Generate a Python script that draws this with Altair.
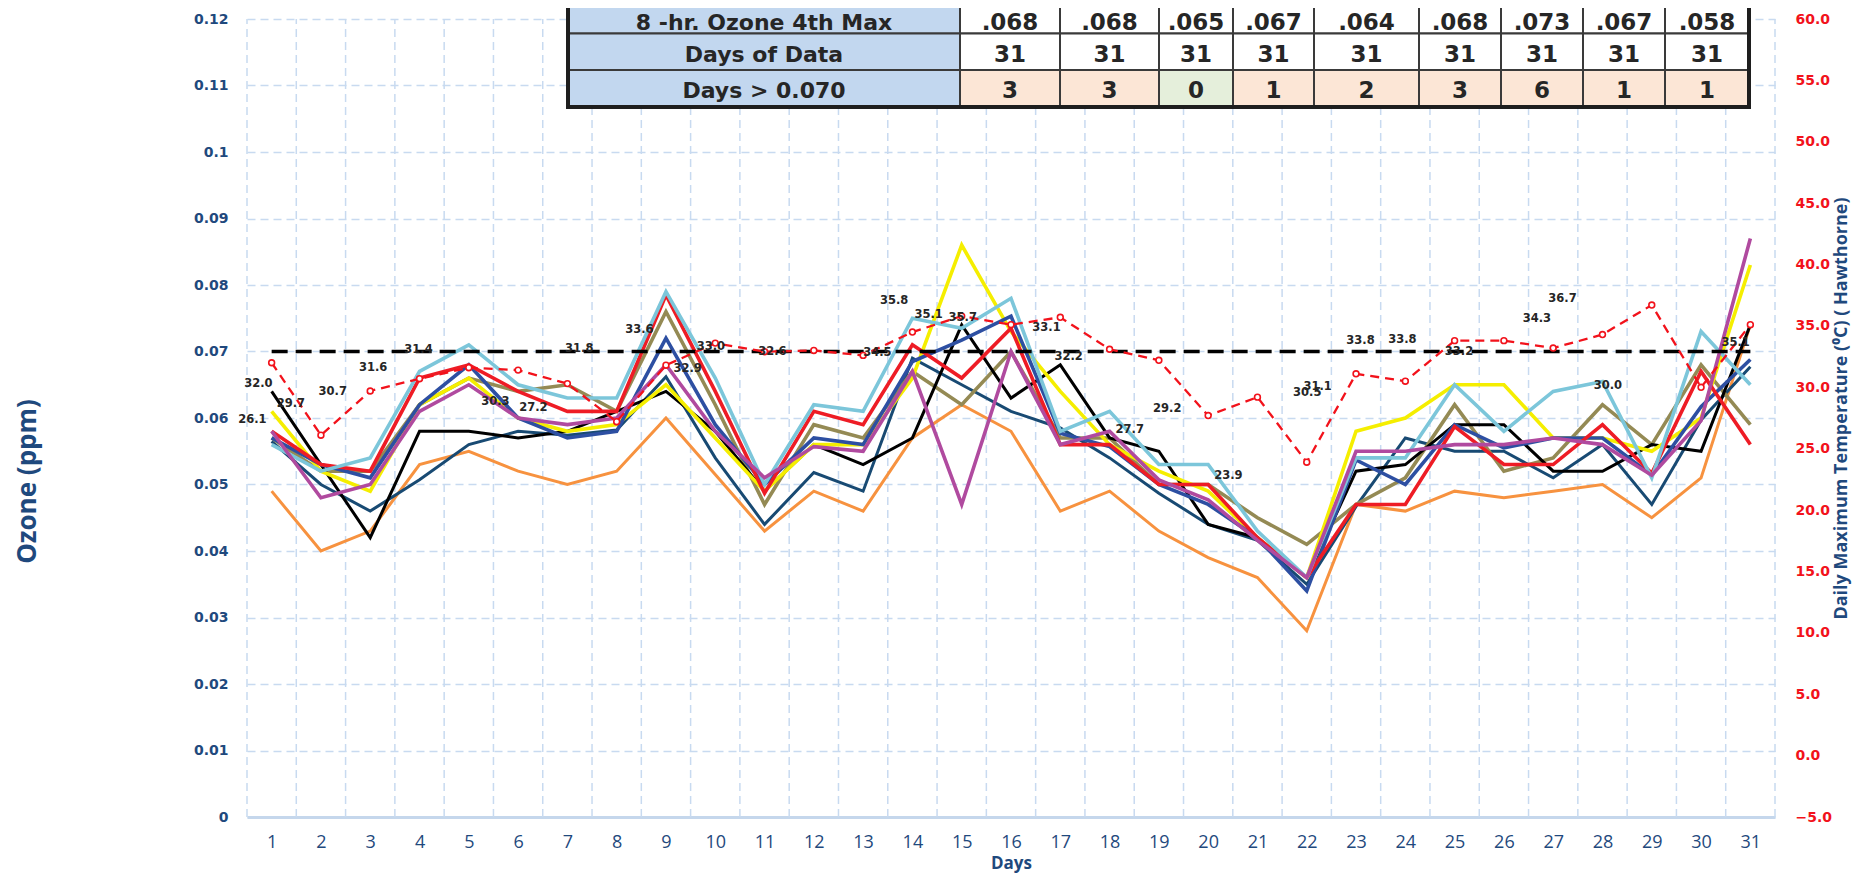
import altair as alt
import pandas as pd

# ---------------- data ----------------
days = list(range(1, 32))

oz_black = [0.064, 0.053, 0.042, 0.058, 0.058, 0.057, 0.058, 0.061, 0.064, 0.058,
            0.049, 0.056, 0.053, 0.057, 0.074, 0.063, 0.068, 0.057, 0.055, 0.044,
            0.042, 0.036, 0.052, 0.053, 0.059, 0.059, 0.052, 0.052, 0.056, 0.055, 0.074]
oz_yellow = [0.061, 0.052, 0.049, 0.062, 0.066, 0.060, 0.058, 0.059, 0.065, 0.057,
             0.049, 0.056, 0.056, 0.066, 0.086, 0.073, 0.064, 0.056, 0.052, 0.049,
             0.042, 0.036, 0.058, 0.060, 0.065, 0.065, 0.057, 0.057, 0.055, 0.060, 0.083]
oz_olive = [0.057, 0.052, 0.052, 0.062, 0.066, 0.064, 0.065, 0.061, 0.076, 0.062,
            0.047, 0.059, 0.057, 0.067, 0.062, 0.070, 0.057, 0.057, 0.050, 0.050,
            0.045, 0.041, 0.047, 0.051, 0.062, 0.052, 0.054, 0.062, 0.056, 0.068, 0.059]
oz_cyan = [0.056, 0.052, 0.054, 0.067, 0.071, 0.065, 0.063, 0.063, 0.079, 0.066,
           0.050, 0.062, 0.061, 0.075, 0.0735, 0.078, 0.058, 0.061, 0.053, 0.053,
           0.043, 0.036, 0.054, 0.054, 0.065, 0.058, 0.064, 0.0655, 0.051, 0.073, 0.065]
oz_red = [0.058, 0.053, 0.052, 0.066, 0.068, 0.064, 0.061, 0.061, 0.0785, 0.064,
          0.0487, 0.061, 0.059, 0.071, 0.066, 0.0735, 0.056, 0.056, 0.050, 0.050,
          0.042, 0.036, 0.047, 0.047, 0.0587, 0.053, 0.053, 0.059, 0.0517, 0.067, 0.056]
oz_blue = [0.057, 0.053, 0.051, 0.062, 0.068, 0.060, 0.057, 0.058, 0.072, 0.059,
           0.050, 0.057, 0.056, 0.0685, 0.0717, 0.0753, 0.0577, 0.0557, 0.050, 0.047,
           0.042, 0.034, 0.0537, 0.050, 0.059, 0.0555, 0.057, 0.057, 0.0514, 0.0617, 0.0688]
oz_navy = [0.0565, 0.050, 0.046, 0.0507, 0.056, 0.058, 0.0574, 0.0582, 0.0662, 0.054,
           0.044, 0.0518, 0.049, 0.069, 0.065, 0.061, 0.0585, 0.054, 0.0487, 0.044,
           0.0416, 0.035, 0.0467, 0.057, 0.055, 0.055, 0.051, 0.056, 0.047, 0.0597, 0.0677]
oz_magenta = [0.058, 0.048, 0.050, 0.061, 0.065, 0.060, 0.059, 0.060, 0.068, 0.058,
              0.051, 0.0557, 0.055, 0.067, 0.047, 0.070, 0.056, 0.058, 0.0507, 0.0477,
              0.0416, 0.036, 0.055, 0.055, 0.056, 0.056, 0.057, 0.056, 0.0514, 0.0596, 0.087]
oz_orange = [0.049, 0.040, 0.043, 0.053, 0.055, 0.052, 0.050, 0.052, 0.060, 0.0515,
             0.043, 0.049, 0.046, 0.057, 0.062, 0.058, 0.046, 0.049, 0.043, 0.039,
             0.036, 0.028, 0.047, 0.046, 0.049, 0.048, 0.049, 0.050, 0.045, 0.051, 0.074]

standard_ppm = [0.070] * 31

temp_max = [32.0, 26.1, 29.7, 30.7, 31.6, 31.4, 30.3, 27.2, 31.8, 33.6,
            32.9, 33.0, 32.6, 34.5, 35.8, 35.1, 35.7, 33.1, 32.2, 27.7,
            29.2, 23.9, 31.1, 30.5, 33.8, 33.8, 33.2, 34.3, 36.7, 30.0, 35.1]

# where each temperature data label sits (in day / degC units)
label_anchor_day = [0.73, 0.61, 1.39, 2.24, 3.06, 3.98, 5.54, 6.31, 7.24, 8.46,
                    9.44, 9.91, 11.16, 13.29, 13.63, 14.33, 15.02, 16.72, 17.17, 18.41,
                    19.17, 20.41, 22.22, 22.01, 23.09, 23.94, 25.09, 26.67, 27.19, 28.11, 30.7]
label_anchor_temp = [30.3, 27.3, 28.6, 29.6, 31.6, 33.0, 28.8, 28.3, 33.1, 34.7,
                     31.5, 33.3, 32.85, 32.77, 37.05, 35.89, 35.62, 34.8, 32.48, 26.52,
                     28.26, 22.8, 30.05, 29.56, 33.77, 33.85, 32.9, 35.54, 37.17, 30.13, 33.58]

table_row_titles = ["8 -hr. Ozone 4th Max", "Days of Data", "Days > 0.070"]
table_4th_max = [".068", ".068", ".065", ".067", ".064", ".068", ".073", ".067", ".058"]
table_days_of_data = [31, 31, 31, 31, 31, 31, 31, 31, 31]
table_days_over = [3, 3, 0, 1, 2, 3, 6, 1, 1]

# ---------------- layout & style ----------------
PLOT_W, PLOT_H = 1528, 798
PAD = {"left": 239, "top": 11, "right": 77, "bottom": 56}
ORIGIN_X, ORIGIN_Y = 8 + PAD["left"], 8 + PAD["top"]
X_DOMAIN = [0.5, 31.5]
OZ_DOMAIN = [0.0, 0.12]
T_DOMAIN = [-5.0, 60.0]

AXIS_BLUE = "#1F497D"
TEMP_RED = "#F2121B"
GRID = "#C8DAF0"
BASE = "#C5D7EC"
TEXT_DARK = "#262626"

series_order = ["orange", "navy", "olive", "black", "yellow", "blue", "red", "cyan", "magenta"]
series_values = {"black": oz_black, "yellow": oz_yellow, "olive": oz_olive, "cyan": oz_cyan,
                 "red": oz_red, "blue": oz_blue, "navy": oz_navy, "magenta": oz_magenta,
                 "orange": oz_orange}
series_color = {"black": "#000000", "yellow": "#F5EE00", "olive": "#948A54", "cyan": "#7CC6DA",
                "red": "#EE1C25", "blue": "#2D4FA2", "navy": "#184A73", "magenta": "#B04A9F",
                "orange": "#F7923F"}
series_width = {"black": 3.0, "yellow": 3.6, "olive": 3.6, "cyan": 3.6, "red": 3.6, "blue": 3.6,
                "navy": 3.0, "magenta": 3.6, "orange": 3.0}

# table layout (page pixels), converted to data units of the chart scales
TABLE_COL_PX = [568, 960, 1060, 1159, 1233, 1314, 1419, 1501, 1583, 1665, 1749]
TABLE_ROW_PX = [-3, 33.5, 70, 107]
TABLE_TEXT_PX = [22.5, 55, 91]
LABEL_FILL = "#C2D7EF"
WHITE = "#FFFFFF"
PEACH = "#FCE6D6"
GREEN = "#E5EFDB"


def day_at(px):
    return X_DOMAIN[0] + (px - ORIGIN_X) / PLOT_W * (X_DOMAIN[1] - X_DOMAIN[0])


def oz_at(py):
    return OZ_DOMAIN[1] - (py - ORIGIN_Y) / PLOT_H * (OZ_DOMAIN[1] - OZ_DOMAIN[0])


x_scale = alt.Scale(domain=X_DOMAIN, nice=False, zero=False)
oz_scale = alt.Scale(domain=OZ_DOMAIN, nice=False, zero=False)
t_scale = alt.Scale(domain=T_DOMAIN, nice=False, zero=False)

x_axis = alt.Axis(values=days, format="d", grid=False, ticks=False, tickSize=0,
                  domainColor=BASE, domainWidth=3, labelFlush=False, labelOverlap=False,
                  labelFont="Open Sans", labelFontSize=18, labelColor=AXIS_BLUE,
                  labelBaseline="middle", labelPadding=25,
                  title="Days", titleFont="Open Sans", titleFontSize=17, titleFontWeight="bold",
                  titleColor=AXIS_BLUE, titleX=PLOT_W / 2,
                  titleY=46, titleAlign="center", titleBaseline="middle")

oz_axis = alt.Axis(values=[i / 100 for i in range(13)], format="~g", grid=True,
                   gridColor=GRID, gridDash=[8, 5], gridWidth=1.5, domain=False,
                   ticks=False, tickSize=0, labelPadding=19, labelOverlap=False,
                   labelFont="DejaVu Sans", labelFontWeight="bold", labelFontSize=14,
                   labelColor=AXIS_BLUE,
                   title="Ozone (ppm)", titleFont="Open Sans", titleFontSize=26,
                   titleFontWeight="bold", titleColor=AXIS_BLUE, titleAngle=270,
                   titleX=-220, titleY=462, titleAlign="center", titleBaseline="middle")

t_axis = alt.Axis(orient="right", values=list(range(-5, 61, 5)), format=".1f", grid=False,
                  domain=False, ticks=False, tickSize=0, labelPadding=20, labelOverlap=False,
                  labelFont="DejaVu Sans", labelFontWeight="bold", labelFontSize=14,
                  labelColor=TEMP_RED,
                  title="Daily Maximum Temperature  (\u2070C)  ( Hawthorne)",
                  titleFont="Open Sans", titleFontSize=18, titleFontWeight="bold",
                  titleColor=AXIS_BLUE, titleAngle=270, titleX=66, titleY=389,
                  titleAlign="center", titleBaseline="middle")


def X(field):
    return alt.X(field, type="quantitative", scale=x_scale, axis=x_axis)


def OZ(field):
    return alt.Y(field, type="quantitative", scale=oz_scale, axis=oz_axis)


def TY(field):
    return alt.Y(field, type="quantitative", scale=t_scale, axis=t_axis)


# ---------------- ozone layers ----------------
grid_df = pd.DataFrame({"gx": [d - 0.5 for d in range(1, 33)],
                        "lo": OZ_DOMAIN[0], "hi": OZ_DOMAIN[1]})
vgrid = alt.Chart(grid_df).mark_rule(color=GRID, strokeDash=[8, 5], strokeWidth=1.5).encode(
    x=X("gx"), y=OZ("lo"), y2="hi:Q",
)

line_layers = []
for name in series_order:
    df = pd.DataFrame({"day": days, "ozone": series_values[name]})
    line_layers.append(
        alt.Chart(df).mark_line(color=series_color[name],
                                strokeWidth=series_width[name]).encode(
            x=X("day"), y=OZ("ozone"),
        )
    )

std_df = pd.DataFrame({"day": days, "ozone": standard_ppm})
threshold = alt.Chart(std_df).mark_line(color="#000000", strokeDash=[16, 8],
                                        strokeWidth=3.6).encode(x=X("day"), y=OZ("ozone"))

# table cells
cells = []
for r in range(3):
    row_values = [table_4th_max, [str(v) for v in table_days_of_data],
                  [str(v) for v in table_days_over]][r]
    for c in range(10):
        if c == 0:
            fill, txt, kind = LABEL_FILL, table_row_titles[r], "label"
        else:
            txt, kind = row_values[c - 1], "value"
            if r == 2:
                fill = PEACH if table_days_over[c - 1] > 0 else GREEN
            else:
                fill = WHITE
        cells.append({
            "x0": day_at(TABLE_COL_PX[c]), "x1": day_at(TABLE_COL_PX[c + 1]),
            "y0": oz_at(TABLE_ROW_PX[r]), "y1": oz_at(TABLE_ROW_PX[r + 1]),
            "xc": day_at((TABLE_COL_PX[c] + TABLE_COL_PX[c + 1]) / 2),
            "yc": oz_at(TABLE_TEXT_PX[r]),
            "fill": fill, "txt": txt, "kind": kind,
        })
cells_df = pd.DataFrame(cells)

cell_rects = alt.Chart(cells_df).mark_rect(stroke="#3A3A3A", strokeWidth=2).encode(
    x=X("x0"), x2="x1:Q", y=OZ("y0"), y2="y1:Q",
    fill=alt.Fill("fill:N", scale=None),
)
border_df = pd.DataFrame([{"x0": day_at(TABLE_COL_PX[0]), "x1": day_at(TABLE_COL_PX[-1]),
                           "y0": oz_at(TABLE_ROW_PX[0]), "y1": oz_at(TABLE_ROW_PX[-1])}])
table_border = alt.Chart(border_df).mark_rect(fillOpacity=0, stroke="#1E1E1E",
                                              strokeWidth=4).encode(
    x=X("x0"), x2="x1:Q", y=OZ("y0"), y2="y1:Q",
)
label_text = alt.Chart(cells_df).transform_filter(alt.datum.kind == "label").mark_text(
    font="DejaVu Sans", fontWeight="bold", fontSize=22, color=TEXT_DARK,
    align="center", baseline="middle").encode(
    x=X("xc"), y=OZ("yc"), text="txt:N",
)
value_text = alt.Chart(cells_df).transform_filter(alt.datum.kind == "value").mark_text(
    font="DejaVu Sans", fontWeight="bold", fontSize=23, color=TEXT_DARK,
    align="center", baseline="middle").encode(
    x=X("xc"), y=OZ("yc"), text="txt:N",
)

ozone_layer = alt.layer(vgrid, *line_layers, threshold, cell_rects, table_border,
                        label_text, value_text)

# ---------------- temperature layers ----------------
t_df = pd.DataFrame({"day": days, "temp": temp_max})
t_line = alt.Chart(t_df).mark_line(color=TEMP_RED, strokeDash=[9, 6], strokeWidth=2.3).encode(
    x=X("day"), y=TY("temp"),
)
t_points = alt.Chart(t_df).mark_point(shape="circle", filled=True, fill="#FFFFFF",
                                      stroke=TEMP_RED, strokeWidth=1.6, size=34,
                                      opacity=1).encode(x=X("day"), y=TY("temp"))
lab_df = pd.DataFrame({"lx": label_anchor_day, "ly": label_anchor_temp,
                       "txt": [f"{v:.1f}" for v in temp_max]})
t_labels = alt.Chart(lab_df).mark_text(font="DejaVu Sans", fontWeight="bold", fontSize=11.5,
                                       color=TEXT_DARK, align="center",
                                       baseline="middle").encode(
    x=X("lx"), y=TY("ly"), text="txt:N",
)
temp_layer = alt.layer(t_line, t_points, t_labels)

chart = alt.layer(ozone_layer, temp_layer).resolve_scale(y="independent").properties(
    width=PLOT_W, height=PLOT_H, padding=PAD,
    autosize=alt.AutoSizeParams(type="none"), background="white",
).configure_view(stroke=None)

chart.save("out.html", embed_options={"renderer": "svg", "actions": False})
